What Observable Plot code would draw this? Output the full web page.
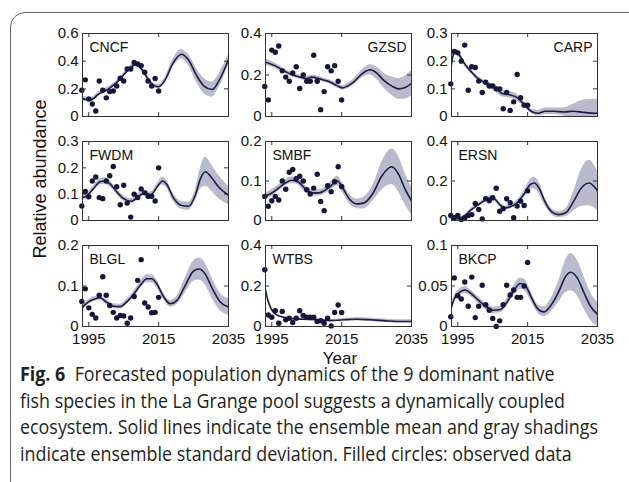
<!DOCTYPE html>
<html><head><meta charset="utf-8">
<script src="https://cdn.jsdelivr.net/npm/d3@7"></script>
<script src="https://cdn.jsdelivr.net/npm/@observablehq/plot@0.6"></script>
<style>
body{margin:0;background:#fff;}
#root{position:relative;width:629px;height:482px;overflow:hidden;font-family:"Liberation Sans",Arial,sans-serif;color:#111;}
#box{position:absolute;left:10px;top:12px;width:640px;height:520px;border:1.5px solid #666;border-radius:15px;box-sizing:border-box;}
.panel{position:absolute;}
.panel svg{overflow:visible;background:transparent;}
#ylab{position:absolute;left:40px;top:179px;transform:translate(-50%,-50%) rotate(-90deg);font-size:18px;line-height:1;white-space:nowrap;}
#xlab{position:absolute;left:340px;top:352px;transform:translateX(-50%);font-size:17px;line-height:0.8;}
#caption{position:absolute;left:20px;top:361px;font-family:"Open Sans",sans-serif;font-size:20px;color:#231f20;transform-origin:0 0;}
#caption .cl{line-height:26.7px;white-space:nowrap;}
#caption .cl span{display:inline-block;line-height:0.8;}
</style></head>
<body><div id="root"><div id="box"></div>
<div id="ylab">Relative abundance</div>
<div id="xlab">Year</div>
<div id="caption">
<div class="cl"><span><b>Fig. 6</b>&nbsp; Forecasted population dynamics of the 9 dominant native</span></div>
<div class="cl"><span>fish species in the La Grange pool suggests a dynamically coupled</span></div>
<div class="cl"><span>ecosystem. Solid lines indicate the ensemble mean and gray shadings</span></div>
<div class="cl"><span>indicate ensemble standard deviation. Filled circles: observed data</span></div>
</div>
</div>
<script>
// ---------- data ----------
const species = ["CNCF","GZSD","CARP","FWDM","SMBF","ERSN","BLGL","WTBS","BKCP"];
const xTicks = [1995, 2015, 2035];
const obsYears = [1993,1994,1995,1996,1997,1998,1999,2000,2001,2002,2003,2004,2005,2006,2007,2008,2009,2010,2011,2012,2013,2014,2015];

const cncfObs = [0.19,0.265,0.127,0.09,0.04,0.257,0.19,0.135,0.18,0.184,0.22,0.277,0.257,0.343,0.343,0.39,0.38,0.368,0.32,0.257,0.22,0.275,0.184];
const gzsdObs = [0.145,0.08,0.32,0.31,0.34,0.22,0.19,0.17,0.21,0.24,0.135,0.20,0.17,0.17,0.295,0.17,0.033,0.12,0.24,0.22,0.245,0.17,0.08];
const carpObs = [0.118,0.235,0.23,0.2,0.258,0.095,0.18,0.177,0.128,0.087,0.124,0.11,0.11,0.1,0.1,0.028,0.087,0.022,0.053,0.152,0.068,0.041,0.041];
const fwdmObs = [0.055,0.11,0.09,0.15,0.165,0.087,0.083,0.15,0.17,0.205,0.128,0.06,0.134,0.066,0.013,0.10,0.087,0.12,0.105,0.092,0.092,0.074,0.20];
const smbfObs = [0.061,0.036,0.05,0.061,0.052,0.10,0.079,0.122,0.129,0.106,0.112,0.10,0.078,0.067,0.082,0.117,0.048,0.025,0.088,0.073,0.098,0.136,0.086];
const ersnObs = [0.025,0.014,0.025,0.005,0.014,0.025,0.03,0.086,0.056,0.008,0.11,0.10,0.115,0.163,0.047,0.06,0.11,0.09,0.014,0.073,0.098,0.076,0.15];
const blglObs = [0.062,0.093,0.046,0.03,0.021,0.077,0.123,0.077,0.052,0.035,0.021,0.027,0.026,0.008,0.021,0.074,0.114,0.165,0.058,0.048,0.034,0.035,0.072];
const wtbsObs = [0.28,0.057,0.046,0.078,0.016,0.074,0.033,0.041,0.02,0.041,0.078,0.054,0.046,0.046,0.046,0.025,0.029,0.016,0.041,0.003,0.069,0.106,0.069];
const bkcpObs = [0.012,0.06,0.038,0.034,0.055,0.025,0.061,0.011,0.025,0.051,0.027,0.02,0.01,0.0,0.007,0.027,0.051,0.039,0.045,0.036,0.036,0.05,0.079];

const cncfFitYears = [1993,1995.5,1998,2001,2004,2006,2008.5,2010.5,2012.5,2015,2017,2019,2021.5,2023.5,2026,2028,2030.3,2032.5,2035];
const cncfMean = [0.13,0.12,0.165,0.205,0.27,0.33,0.375,0.33,0.25,0.215,0.27,0.38,0.45,0.41,0.29,0.22,0.195,0.27,0.41];
const cncfSd = [0.02,0.015,0.015,0.015,0.015,0.015,0.015,0.015,0.015,0.015,0.02,0.03,0.035,0.04,0.05,0.055,0.055,0.05,0.04];

const gzsdFitYears = [1993,1996.5,1998.5,2001,2003,2005,2006.5,2009.5,2011.5,2013.5,2015.2,2016.5,2018.5,2021,2023.2,2025,2027,2029.5,2031.3,2033,2035];
const gzsdMean = [0.263,0.24,0.22,0.20,0.19,0.183,0.19,0.177,0.167,0.15,0.138,0.145,0.167,0.208,0.225,0.21,0.175,0.145,0.133,0.138,0.16];
const gzsdSd = [0.015,0.012,0.01,0.01,0.01,0.01,0.01,0.01,0.01,0.01,0.01,0.012,0.015,0.02,0.025,0.03,0.035,0.045,0.05,0.055,0.06];

const carpFitYears = [1993,1993.8,1994.7,1995.7,1997,1999,2000.5,2002.5,2004.5,2006,2007.7,2010,2012,2014,2016,2018,2020,2022.5,2025.5,2028,2031,2034.3,2035];
const carpMean = [0.17,0.225,0.232,0.217,0.19,0.16,0.14,0.124,0.11,0.10,0.083,0.078,0.068,0.043,0.019,0.012,0.019,0.019,0.016,0.019,0.015,0.012,0.012];
const carpSd = [0.01,0.01,0.01,0.01,0.008,0.008,0.008,0.008,0.01,0.012,0.012,0.012,0.012,0.01,0.008,0.01,0.012,0.012,0.015,0.025,0.045,0.05,0.05];

const fwdmFitYears = [1993,1994.3,1996.3,1998.2,1999.6,2001,2003,2005,2007.2,2009.7,2011.1,2012.7,2014.9,2016.1,2017.3,2019.2,2021.6,2023.6,2025.5,2027,2028.4,2030,2032,2035];
const fwdmMean = [0.087,0.092,0.12,0.147,0.15,0.14,0.109,0.083,0.073,0.096,0.105,0.098,0.134,0.15,0.138,0.087,0.057,0.054,0.096,0.16,0.185,0.165,0.13,0.095];
const fwdmSd = [0.01,0.01,0.01,0.012,0.012,0.012,0.01,0.01,0.01,0.01,0.01,0.01,0.012,0.015,0.015,0.015,0.015,0.015,0.02,0.04,0.055,0.05,0.045,0.035];

const smbfFitYears = [1993,1994.9,1996.8,1998.7,2000.7,2002.6,2004.5,2006.5,2008.5,2010,2011.7,2013.8,2015.5,2017.4,2019.5,2021.3,2024.1,2026.5,2029.4,2031.3,2033.2,2035];
const smbfMean = [0.061,0.069,0.081,0.094,0.102,0.0975,0.081,0.07,0.07,0.075,0.086,0.10,0.079,0.0525,0.042,0.044,0.071,0.1125,0.136,0.117,0.079,0.05];
const smbfSd = [0.008,0.008,0.008,0.008,0.008,0.008,0.008,0.008,0.008,0.008,0.01,0.012,0.012,0.012,0.012,0.015,0.02,0.035,0.045,0.045,0.04,0.035];

const ersnFitYears = [1993,1995.2,1997.1,1999,2001,2002.9,2004.3,2005.7,2007.2,2008.6,2010,2012,2013.9,2015.8,2016.9,2018.2,2020.1,2022,2023.9,2025.9,2028.2,2030.2,2032.6,2035];
const ersnMean = [0.01,0.01,0.025,0.056,0.081,0.103,0.115,0.107,0.076,0.064,0.069,0.09,0.132,0.183,0.19,0.166,0.09,0.042,0.03,0.039,0.098,0.161,0.19,0.15];
const ersnSd = [0.005,0.005,0.006,0.008,0.008,0.01,0.01,0.01,0.01,0.01,0.01,0.012,0.018,0.025,0.03,0.03,0.02,0.015,0.015,0.02,0.05,0.09,0.115,0.1];

const blglFitYears = [1993,1994.8,1996.7,1998.2,2000.1,2002,2003.9,2005.8,2007.8,2009.7,2011.6,2013,2014.5,2016.4,2018.3,2020.2,2022.6,2025,2026.6,2028.3,2030.3,2032.5,2035];
const blglMean = [0.045,0.06,0.068,0.071,0.06,0.05,0.049,0.06,0.079,0.101,0.118,0.118,0.105,0.074,0.056,0.064,0.101,0.137,0.142,0.13,0.095,0.062,0.048];
const blglSd = [0.006,0.006,0.006,0.006,0.006,0.006,0.006,0.006,0.007,0.008,0.01,0.01,0.01,0.008,0.008,0.01,0.018,0.025,0.027,0.027,0.025,0.022,0.02];

const wtbsFitYears = [1993,1994,1994.9,1996.4,1998.3,2001.1,2004,2007.8,2011.7,2015.5,2019.3,2023.2,2027,2030.8,2035];
const wtbsMean = [0.196,0.123,0.085,0.057,0.046,0.038,0.036,0.033,0.029,0.033,0.036,0.033,0.029,0.025,0.025];
const wtbsSd = [0.01,0.008,0.006,0.005,0.005,0.005,0.005,0.005,0.005,0.006,0.008,0.008,0.008,0.008,0.008];

const bkcpFitYears = [1993,1994,1995.2,1997.1,1999,2001,2002.9,2005.3,2007.2,2009.1,2011,2012.9,2014.4,2015.8,2017.7,2019.6,2021.5,2023.9,2025.9,2027.3,2029.2,2031.1,2033,2035];
const bkcpMean = [0.021,0.034,0.041,0.045,0.04,0.032,0.025,0.02,0.021,0.03,0.044,0.053,0.05,0.0385,0.023,0.018,0.025,0.043,0.062,0.067,0.06,0.042,0.025,0.015];
const bkcpSd = [0.004,0.004,0.004,0.004,0.004,0.004,0.004,0.004,0.004,0.005,0.006,0.007,0.007,0.006,0.005,0.006,0.008,0.013,0.02,0.023,0.022,0.02,0.017,0.015];

const yMax = [0.6,0.4,0.3,0.3,0.2,0.4,0.2,0.4,0.1];
const yTickLists = [[0,0.2,0.4,0.6],[0,0.2,0.4],[0,0.1,0.2,0.3],[0,0.1,0.2,0.3],[0,0.1,0.2],[0,0.2,0.4],[0,0.1,0.2],[0,0.2,0.4],[0,0.05,0.1]];
const labelRightSide = ["GZSD","CARP"];

// ---------- drawing ----------
const series = [
  [cncfObs,cncfFitYears,cncfMean,cncfSd],
  [gzsdObs,gzsdFitYears,gzsdMean,gzsdSd],
  [carpObs,carpFitYears,carpMean,carpSd],
  [fwdmObs,fwdmFitYears,fwdmMean,fwdmSd],
  [smbfObs,smbfFitYears,smbfMean,smbfSd],
  [ersnObs,ersnFitYears,ersnMean,ersnSd],
  [blglObs,blglFitYears,blglMean,blglSd],
  [wtbsObs,wtbsFitYears,wtbsMean,wtbsSd],
  [bkcpObs,bkcpFitYears,bkcpMean,bkcpSd]
];
const colLeft = [82, 265, 451];
const rowTop = [33, 141, 245];
const rowH = [83, 79, 81];
const W = 146;
const bandColor = "#babacd", lineColor = "#1c1c46", dotColor = "#15153d", axisColor = "#333";
const root = document.getElementById("root");

species.forEach((name, i) => {
  const [obs, fy, fm, fs] = series[i];
  const col = i % 3, row = Math.floor(i / 3);
  const h = rowH[row];
  const showX = row === 2;
  const mL = 40, mR = 8, mT = 6, mB = showX ? 28 : 6;
  const fit = fy.map((x, k) => ({year: x, m: fm[k], s: fs[k]}));
  const pts = obsYears.map((x, k) => ({year: x, v: obs[k]}));
  const yt = yTickLists[i];
  const right = labelRightSide.includes(name);
  const chart = Plot.plot({
    width: W + mL + mR, height: h + mT + mB,
    marginLeft: mL, marginRight: mR, marginTop: mT, marginBottom: mB,
    style: {background: "transparent", overflow: "visible", fontFamily: "'Liberation Sans', Arial, sans-serif", color: "#111"},
    x: {domain: [1993.2, 2035], axis: null},
    y: {domain: [0, yMax[i]], axis: null},
    marks: [
      Plot.areaY(fit, {x: "year", y1: d => d.m - d.s, y2: d => d.m + d.s, fill: bandColor, curve: "monotone-x", clip: true}),
      Plot.line(fit, {x: "year", y: "m", stroke: lineColor, strokeWidth: 1.6, curve: "monotone-x", clip: true}),
      Plot.dot(pts, {x: "year", y: "v", r: 2.7, fill: dotColor, stroke: null}),
      Plot.frame({stroke: axisColor, strokeWidth: 1}),
      Plot.tickY(yt, {y: d => d, insetRight: W - 4, stroke: axisColor}),
      Plot.tickY(yt, {y: d => d, insetLeft: W - 4, stroke: axisColor}),
      Plot.tickX(xTicks, {x: d => d, insetTop: h - 4, stroke: axisColor}),
      Plot.tickX(xTicks, {x: d => d, insetBottom: h - 4, stroke: axisColor}),
      Plot.axisY(yt, {anchor: "left", tickSize: 0, tickPadding: 4, fontSize: 15, tickFormat: d => String(d), label: null}),
      showX ? Plot.axisX(xTicks, {anchor: "bottom", tickSize: 0, tickPadding: 7, fontSize: 15, tickFormat: d => String(d), label: null}) : null,
      Plot.text([name], {text: d => d, frameAnchor: right ? "top-right" : "top-left", textAnchor: right ? "end" : "start", lineAnchor: "top", dx: right ? -5 : 7, dy: 9, fontSize: 14, fill: "#111"})
    ]
  });
  const wrap = document.createElement("div");
  wrap.className = "panel";
  wrap.style.left = (colLeft[col] - mL) + "px";
  wrap.style.top = (rowTop[row] - mT) + "px";
  wrap.appendChild(chart);
  root.appendChild(wrap);
});

// caption horizontal fit
const cap = document.getElementById("caption");
const l2 = cap.querySelectorAll(".cl span")[1];
const sc = 545 / l2.getBoundingClientRect().width;
cap.style.transform = `scaleX(${sc})`;
</script>
</body></html>
